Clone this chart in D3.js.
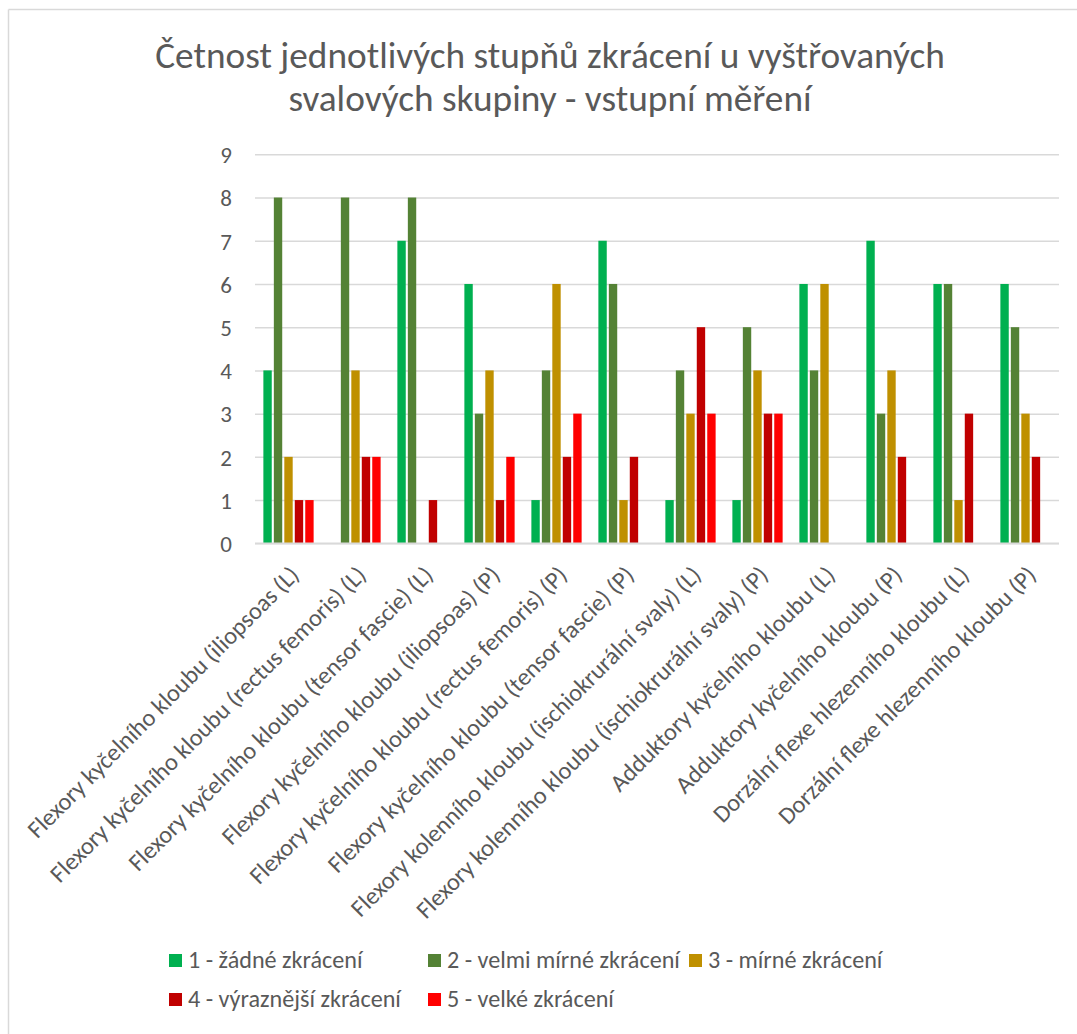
<!DOCTYPE html>
<html>
<head>
<meta charset="utf-8">
<script src="https://cdn.jsdelivr.net/npm/d3@7"></script>
<style>
  html, body { margin: 0; padding: 0; background: #fff; }
  svg { display: block; font-family: Carlito, Calibri, Lato, "Open Sans", sans-serif; }
  svg text { font-family: Carlito, Calibri, Lato, "Open Sans", sans-serif; }
</style>
</head>
<body>
<svg id="chart" width="1077" height="1034"></svg>
<script>
// Muscle groups measured
const categories = [
  "Flexory kyčelního kloubu (iliopsoas (L)",
  "Flexory kyčelního kloubu (rectus femoris) (L)",
  "Flexory kyčelního kloubu (tensor fascie) (L)",
  "Flexory kyčelního kloubu (iliopsoas) (P)",
  "Flexory kyčelního kloubu (rectus femoris) (P)",
  "Flexory kyčelního kloubu (tensor fascie) (P)",
  "Flexory kolenního kloubu (ischiokrurální svaly) (L)",
  "Flexory kolenního kloubu (ischiokrurální svaly) (P)",
  "Adduktory kyčelního kloubu (L)",
  "Adduktory kyčelního kloubu (P)",
  "Dorzální flexe hlezenního kloubu (L)",
  "Dorzální flexe hlezenního kloubu (P)"
];

// Shortening grades (series)
const seriesNames = [
  "1 - žádné zkrácení",
  "2 - velmi mírné zkrácení",
  "3 - mírné zkrácení",
  "4 - výraznější zkrácení",
  "5 - velké zkrácení"
];
const seriesColors = ["#00B050", "#548235", "#BF9000", "#C00000", "#FF0000"];

// Counts per grade, one value per muscle group
const grade1 = [4, 0, 7, 6, 1, 7, 1, 1, 6, 7, 6, 6];
const grade2 = [8, 8, 8, 3, 4, 6, 4, 5, 4, 3, 6, 5];
const grade3 = [2, 4, 0, 4, 6, 1, 3, 4, 6, 4, 1, 3];
const grade4 = [1, 2, 1, 1, 2, 2, 5, 3, 0, 2, 3, 2];
const grade5 = [1, 2, 0, 2, 3, 0, 3, 3, 0, 0, 0, 0];
const seriesValues = [grade1, grade2, grade3, grade4, grade5];

const yTicks = [0, 1, 2, 3, 4, 5, 6, 7, 8, 9];

const titleLines = [
  "Četnost jednotlivých stupňů zkrácení u vyštřovaných",
  "svalových skupiny - vstupní měření"
];

const textColor = "#595959";
const gridColor = "#D9D9D9";

const svg = d3.select("#chart");

// Sets a font size so the text occupies the requested width
function fitWidth(textSel, target) {
  textSel.style("font-size", "100px");
  const w = textSel.node().getComputedTextLength();
  const size = 100 * target / w;
  textSel.style("font-size", size + "px");
  return size;
}

// Chart frame
svg.append("line")
  .attr("x1", 8.5).attr("x2", 1077).attr("y1", 9.5).attr("y2", 9.5)
  .attr("stroke", gridColor).attr("stroke-width", 1.5);
svg.append("line")
  .attr("x1", 8.5).attr("x2", 8.5).attr("y1", 9.5).attr("y2", 1034)
  .attr("stroke", gridColor).attr("stroke-width", 1.5);

// Title
const t1 = svg.append("text")
  .attr("x", 550).attr("y", 68)
  .attr("text-anchor", "middle")
  .attr("fill", textColor)
  .style("font-weight", 300)
  .text(titleLines[0]);
const titleSize = fitWidth(t1, 790);
svg.append("text")
  .attr("x", 550).attr("y", 111)
  .attr("text-anchor", "middle")
  .attr("fill", textColor)
  .style("font-weight", 300)
  .style("font-size", titleSize + "px")
  .text(titleLines[1]);

// Plot area
const plot = { left: 255, right: 1059, top: 154.3, bottom: 543.3 };

const x0 = d3.scaleBand()
  .domain(categories)
  .range([plot.left, plot.right])
  .paddingInner(0)
  .paddingOuter(0);

const groupWidth = x0.bandwidth() * 0.75;
const x1 = d3.scaleBand()
  .domain(d3.range(seriesNames.length))
  .range([0, groupWidth])
  .paddingInner(0.2)
  .paddingOuter(0);

const y = d3.scaleLinear()
  .domain([0, 9])
  .range([plot.bottom, plot.top]);

// Gridlines and value axis labels
const yAxis = d3.axisLeft(y)
  .tickValues(yTicks)
  .tickSize(-(plot.right - plot.left))
  .tickPadding(23)
  .tickFormat(d3.format("d"));

const gy = svg.append("g")
  .attr("transform", `translate(${plot.left},0)`)
  .call(yAxis)
  .attr("font-family", null)
  .attr("font-size", null);
gy.select(".domain").remove();
gy.selectAll(".tick line")
  .attr("stroke", gridColor)
  .attr("stroke-width", 1.5);
gy.selectAll(".tick text")
  .attr("fill", textColor)
  .style("font-size", "23px")
  .attr("dy", "0.36em");

// Bars
const groups = svg.append("g")
  .selectAll("g")
  .data(categories)
  .join("g")
  .attr("transform", d => `translate(${x0(d) + (x0.bandwidth() - groupWidth) / 2},0)`);

groups.selectAll("rect")
  .data((d, ci) => seriesValues.map((vals, si) => ({ si, v: vals[ci] })))
  .join("rect")
  .attr("x", d => x1(d.si))
  .attr("width", x1.bandwidth())
  .attr("y", d => y(d.v))
  .attr("height", d => y(0) - y(d.v))
  .attr("fill", d => seriesColors[d.si]);

// Category axis baseline
svg.append("line")
  .attr("x1", plot.left).attr("x2", plot.right)
  .attr("y1", y(0)).attr("y2", y(0))
  .attr("stroke", gridColor).attr("stroke-width", 1.8);

// Category labels, rotated
const xLabels = svg.append("g")
  .selectAll("text")
  .data(categories)
  .join("text")
  .attr("text-anchor", "end")
  .attr("fill", textColor)
  .attr("transform", d => `translate(${x0(d) + x0.bandwidth() / 2 + 12},${plot.bottom + 33}) rotate(-45)`)
  .text(d => d);
const labelSize = fitWidth(xLabels.filter((d, i) => i === categories.length - 1), 353);
xLabels.style("font-size", labelSize + "px");

// Legend
const legendItems = [
  { si: 0, x: 169, y: 954 },
  { si: 1, x: 428, y: 954 },
  { si: 2, x: 689, y: 954 },
  { si: 3, x: 169, y: 993 },
  { si: 4, x: 428, y: 993 }
];
const legend = svg.append("g");
const legendText = legend.selectAll("text")
  .data(legendItems)
  .join("text")
  .attr("x", d => d.x + 19)
  .attr("y", d => d.y + 14)
  .attr("fill", textColor)
  .text(d => seriesNames[d.si]);
const legendSize = fitWidth(legendText.filter(d => d.si === 1), 233);
legendText.style("font-size", legendSize + "px");
legend.selectAll("rect")
  .data(legendItems)
  .join("rect")
  .attr("x", d => d.x)
  .attr("y", d => d.y)
  .attr("width", 13)
  .attr("height", 13)
  .attr("fill", d => seriesColors[d.si]);
</script>
</body>
</html>
